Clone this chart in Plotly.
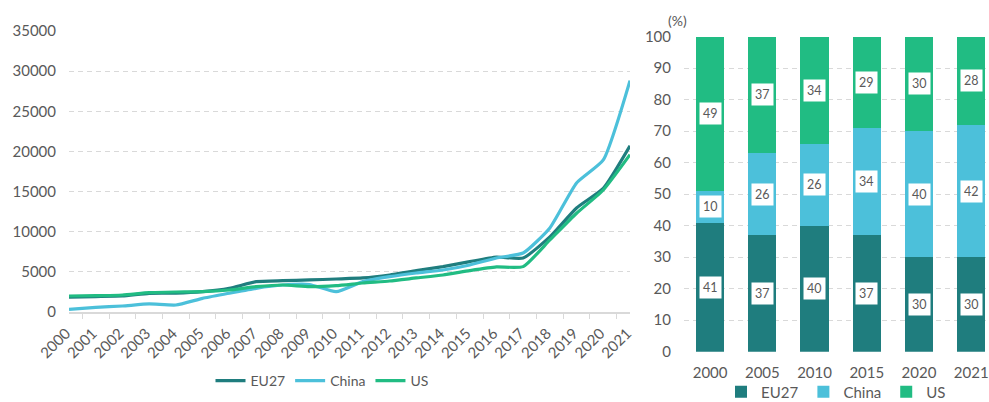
import plotly.graph_objects as go

# ---- data: left line chart ----
years = [str(y) for y in range(2000, 2022)]
eu27 = [1850, 1920, 1990, 2330, 2350, 2530, 2950, 3780, 3900, 3990, 4110, 4240,
        4610, 5150, 5650, 6270, 6850, 6730, 9350, 12960, 15400, 20700]
china = [330, 580, 750, 1000, 870, 1700, 2330, 2950, 3360, 3420, 2530, 3780,
         4400, 4860, 5230, 5860, 6730, 7350, 10470, 16070, 18940, 28820]
us = [1990, 2030, 2120, 2410, 2490, 2530, 2740, 3150, 3360, 3150, 3280, 3610,
      3860, 4240, 4610, 5150, 5610, 5650, 8970, 12300, 15200, 19600]

# ---- data: right stacked share chart ----
share_years = ["2000", "2005", "2010", "2015", "2020", "2021"]
share_eu27 = [41, 37, 40, 37, 30, 30]
share_china = [10, 26, 26, 34, 40, 42]
share_us = [49, 37, 34, 29, 30, 28]

C_EU = "#1f7d7e"
C_CN = "#4cc0da"
C_US = "#21bc83"
GRID = "#d9d9d9"
TXT = "#595959"
FONT = "Lato, Open Sans, sans-serif"

W, H = 989, 402

fig = go.Figure()

for name, vals, col in [("EU27", eu27, C_EU), ("China", china, C_CN), ("US", us, C_US)]:
    fig.add_trace(go.Scatter(
        x=years, y=vals, name=name, mode="lines",
        line=dict(color=col, width=3.2, shape="spline", smoothing=0.5),
        xaxis="x", yaxis="y", legend="legend",
    ))

for name, vals, col in [("EU27", share_eu27, C_EU), ("China", share_china, C_CN), ("US", share_us, C_US)]:
    fig.add_trace(go.Bar(
        x=share_years, y=vals, name=name, marker=dict(color=col, line=dict(width=0)),
        xaxis="x2", yaxis="y2", legend="legend2",
    ))

# data labels (white boxes) centred in each segment
annotations = []
for i, yr in enumerate(share_years):
    base = 0
    for vals in (share_eu27, share_china, share_us):
        v = vals[i]
        annotations.append(dict(
            x=i, y=base + v / 2, xref="x2", yref="y2", text=str(v),
            showarrow=False, bgcolor="white", borderpad=3,
            font=dict(family=FONT, size=12.5, color=TXT),
        ))
        base += v

annotations.append(dict(
    x=677 / W, y=1 - 20 / H, xref="paper", yref="paper", text="(%)",
    showarrow=False, font=dict(family=FONT, size=14, color=TXT),
    xanchor="center", yanchor="middle",
))

fig.update_layout(
    width=W, height=H,
    margin=dict(l=0, r=0, t=0, b=0, autoexpand=False),
    paper_bgcolor="white", plot_bgcolor="white",
    font=dict(family=FONT, color=TXT),
    barmode="stack", bargap=0.46,
    showlegend=True,
    annotations=annotations,
    xaxis=dict(
        domain=[69 / W, 630 / W], type="category", anchor="y", automargin=False,
        showline=True, linecolor=GRID, linewidth=1.5,
        ticks="outside", tickson="boundaries", ticklen=5, tickcolor=GRID,
        tickangle=-45, tickfont=dict(size=15, color=TXT),
        ticklabelstandoff=5, ticklabelshift=-3,
        showgrid=False,
    ),
    yaxis=dict(
        domain=[(H - 312) / H, (H - 31) / H], range=[0, 35000], anchor="x", automargin=False,
        tickvals=[0, 5000, 10000, 15000, 20000, 25000, 30000, 35000], tickformat="d",
        showgrid=True, gridcolor=GRID, griddash="5px,4px", gridwidth=1,
        zeroline=False, showline=False,
        tickfont=dict(size=15, color=TXT), ticklabelstandoff=12,
    ),
    xaxis2=dict(
        domain=[684 / W, 1.0], type="category", range=[-0.5, 5.34], anchor="y2", automargin=False,
        showline=False, ticks="", showgrid=False,
        tickfont=dict(size=15, color=TXT), ticklabelstandoff=10,
    ),
    yaxis2=dict(
        domain=[(H - 351.7) / H, (H - 36.7) / H], range=[0, 100], anchor="x2", automargin=False,
        dtick=10,
        showgrid=True, gridcolor=GRID, griddash="5px,4px", gridwidth=1,
        zeroline=False, showline=False,
        tickfont=dict(size=15, color=TXT), ticklabelstandoff=12,
    ),
    legend=dict(
        orientation="h", x=322 / W, y=(H - 381) / H, xanchor="center", yanchor="middle",
        font=dict(size=14, color=TXT), itemwidth=30,
        bgcolor="rgba(0,0,0,0)",
    ),
    legend2=dict(
        orientation="h", x=836 / W, y=(H - 392) / H, xanchor="center", yanchor="middle",
        font=dict(size=15, color=TXT), itemwidth=30, traceorder="normal",
        bgcolor="rgba(0,0,0,0)",
    ),
)

fig.write_html("out.html")
